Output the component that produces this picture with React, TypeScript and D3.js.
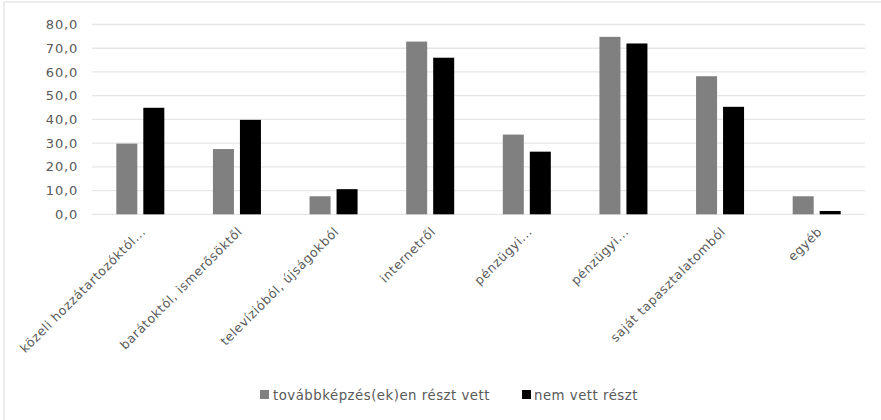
import React from "react";
import * as d3 from "d3";

const categories = [
  "közeli hozzátartozóktól...",
  "barátoktól, ismerősöktől",
  "televízióból, újságokból",
  "internetről",
  "pénzügyi...",
  "pénzügyi...",
  "saját tapasztalatomból",
  "egyéb",
];
const seriesNames = ["továbbképzés(ek)en részt vett", "nem vett részt"];
const seriesA = [29.8, 27.5, 7.6, 72.8, 33.6, 74.8, 58.2, 7.6];
const seriesB = [44.9, 39.8, 10.6, 66.0, 26.4, 72.0, 45.3, 1.4];
const yTicks = [0, 10, 20, 30, 40, 50, 60, 70, 80];
const colors = ["#808080", "#000000"];

export default function App() {
  const W = 881, H = 420;
  const left = 92, right = 865, top = 24.5, bottom = 214.3;
  const x = d3.scaleBand<number>().domain(d3.range(categories.length)).range([left, right]);
  const y = d3.scaleLinear().domain([0, 80]).range([bottom, top]);
  const barW = 21, gap = 6;
  const font = "'DejaVu Sans', sans-serif";
  const fmt = (v: number) => v.toFixed(1).replace(".", ",");
  return (
    <svg width={W} height={H} style={{ position: "absolute", left: 0, top: 0 }} fontFamily={font}>
      <rect x={0} y={0} width={W} height={H} fill="#fff" />
      <line x1={4} y1={2} x2={W} y2={2} stroke="#d9d9d9" />
      <line x1={4} y1={2} x2={4} y2={H} stroke="#d9d9d9" />
      {yTicks.map((t) => (
        <g key={t}>
          <line x1={left} x2={right} y1={y(t)} y2={y(t)} stroke="#e6e6e6" strokeWidth={1.3} />
          <text x={78} y={y(t)} dy="0.35em" textAnchor="end" fontSize={13} letterSpacing={0.8} fill="#595959">
            {fmt(t)}
          </text>
        </g>
      ))}
      {categories.map((c, i) => {
        const cx = (x(i) as number) + x.bandwidth() / 2;
        return (
          <g key={i}>
            <rect x={cx - gap / 2 - barW} y={y(seriesA[i])} width={barW} height={y(0) - y(seriesA[i])} fill={colors[0]} />
            <rect x={cx + gap / 2} y={y(seriesB[i])} width={barW} height={y(0) - y(seriesB[i])} fill={colors[1]} />
            <text
              transform={`translate(${cx + 3},${bottom + 15}) rotate(-45)`}
              textAnchor="end"
              dy="0.35em"
              fontSize={12.5}
              letterSpacing={0.6}
              fill="#595959"
            >
              {c}
            </text>
          </g>
        );
      })}
      <g>
        <rect x={260} y={390} width={9} height={9} fill={colors[0]} />
        <text x={273} y={395} dy="0.35em" fontSize={13.3} letterSpacing={0.5} fill="#595959">{seriesNames[0]}</text>
        <rect x={522} y={390} width={9} height={9} fill={colors[1]} />
        <text x={534} y={395} dy="0.35em" fontSize={13.3} letterSpacing={0.5} fill="#595959">{seriesNames[1]}</text>
      </g>
    </svg>
  );
}
